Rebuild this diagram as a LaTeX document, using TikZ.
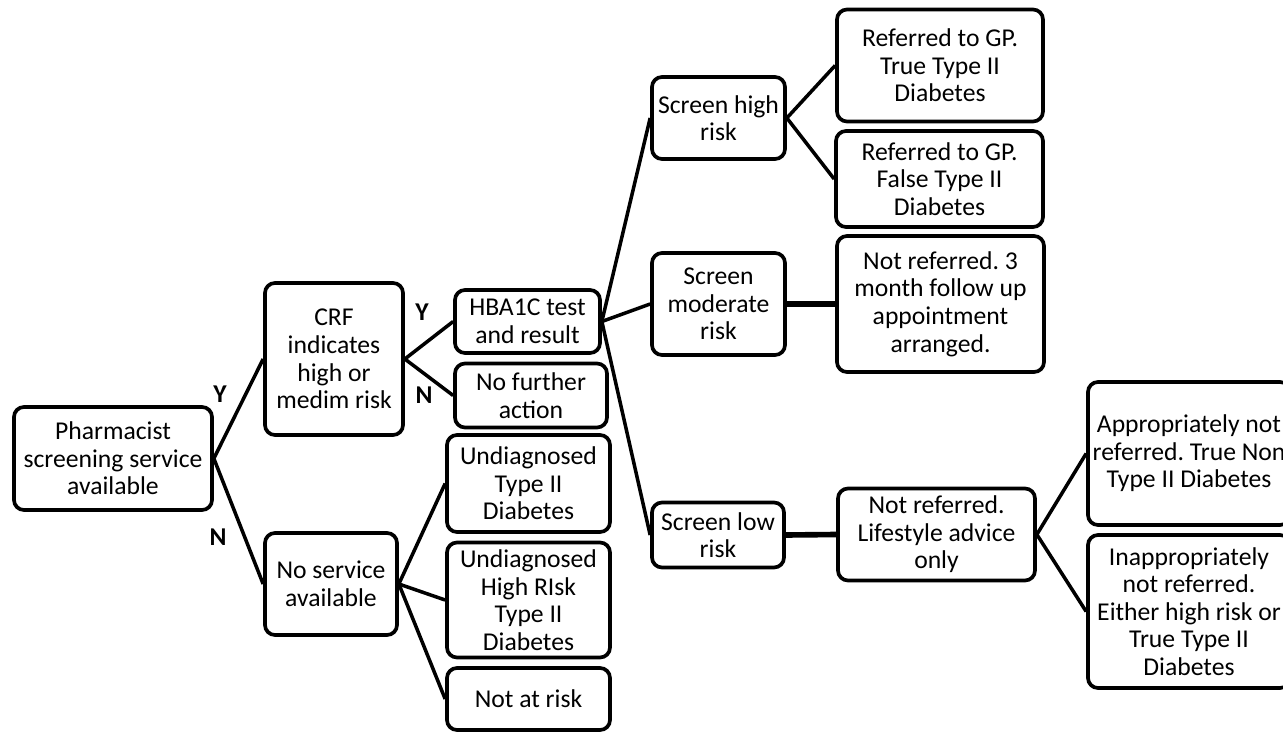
\documentclass[tikz,border=0pt]{standalone}
\usepackage{fontspec}
\setmainfont{Carlito}
\frenchspacing
\begin{document}
\begin{tikzpicture}[
  box/.style={draw, line width=2.1pt, rounded corners=0.2cm, align=center, inner sep=1pt, font=\fontsize{14.6}{15.7}\selectfont},
  link/.style={line width=2pt},
  heavylink/.style={line width=3.2pt},
  yn/.style={font=\fontsize{14.6}{15.7}\selectfont\bfseries}
]
% page size of the reference
\useasboundingbox (0,0) rectangle (25.66,-14.64);
\clip (0,0) rectangle (25.66,-14.64);

% first levels
\node[box, minimum width=3.96cm, minimum height=2.06cm] (pharm) at (2.26,-9.17) {Pharmacist\\screening service\\available};
\node[box, minimum width=2.76cm, minimum height=3.04cm] (crf) at (6.68,-7.18) {CRF\\indicates\\high or\\medim risk};
\node[box, minimum width=2.64cm, minimum height=2.04cm] (noserv) at (6.62,-11.68) {No service\\available};

\node[box, minimum width=2.9cm, minimum height=1.26cm] (hba) at (10.55,-6.43) {HBA1C test\\and result};
\node[box, minimum width=3.04cm, minimum height=1.28cm] (nofurther) at (10.62,-7.91) {No further\\action};
\node[box, minimum width=3.26cm, minimum height=1.94cm] (undiag) at (10.57,-9.67) {Undiagnosed\\Type II\\Diabetes};
\node[box, minimum width=3.26cm, minimum height=2.3cm] (undiaghr) at (10.57,-12.0) {Undiagnosed\\High RIsk\\Type II\\Diabetes};
\node[box, minimum width=3.26cm, minimum height=1.24cm] (notrisk) at (10.57,-13.98) {Not at risk};

% screen results
\node[box, minimum width=2.66cm, minimum height=1.64cm] (scrhigh) at (14.37,-2.36) {Screen high\\risk};
\node[box, minimum width=2.66cm, minimum height=2.04cm] (scrmod) at (14.37,-6.08) {Screen\\moderate\\risk};
\node[box, minimum width=2.64cm, minimum height=1.3cm] (scrlow) at (14.36,-10.7) {Screen low\\risk};

% outcomes
\node[box, minimum width=4.12cm, minimum height=2.24cm] (reftrue) at (18.8,-1.31) {Referred to GP.\\True Type II\\Diabetes};
\node[box, minimum width=4.14cm, minimum height=1.92cm] (reffalse) at (18.79,-3.58) {Referred to GP.\\False Type II\\Diabetes};
\node[box, minimum width=4.14cm, minimum height=2.72cm] (followup) at (18.81,-6.08) {Not referred. 3\\month follow up\\appointment\\arranged.};
\node[box, minimum width=3.94cm, minimum height=1.84cm] (lifestyle) at (18.73,-10.69) {Not referred.\\Lifestyle advice\\only};
\node[box, minimum width=4.04cm, minimum height=2.86cm] (approp) at (23.78,-9.07) {Appropriately not\\referred. True Non\\Type II Diabetes};
\node[box, minimum width=4.04cm, minimum height=3.06cm] (inapprop) at (23.78,-12.23) {Inappropriately\\not referred.\\Either high risk or\\True Type II\\Diabetes};

% connectors
\draw[link] (pharm.east) -- (crf.west);
\draw[link] (pharm.east) -- (noserv.west);
\draw[link] (crf.east) -- (hba.west);
\draw[link] (crf.east) -- (nofurther.west);
\draw[link] (noserv.east) -- (undiag.west);
\draw[link] (noserv.east) -- (undiaghr.west);
\draw[link] (noserv.east) -- (notrisk.west);
\draw[link] (hba.east) -- (scrhigh.west);
\draw[link] (hba.east) -- (scrmod.west);
\draw[link] (hba.east) -- (scrlow.west);
\draw[link] (scrhigh.east) -- (reftrue.west);
\draw[link] (scrhigh.east) -- (reffalse.west);
\draw[heavylink] (scrmod.east) -- (followup.west);
\draw[heavylink] (scrlow.east) -- (lifestyle.west);
\draw[link] (lifestyle.east) -- (approp.west);
\draw[link] (lifestyle.east) -- (inapprop.west);

% Y / N labels
\node[yn] (y1) at (4.4,-7.88) {Y};
\node[yn] (n1) at (4.36,-10.74) {N};
\node[yn] (y2) at (8.44,-6.24) {Y};
\node[yn] (n2) at (8.48,-7.9) {N};
\end{tikzpicture}
\end{document}
